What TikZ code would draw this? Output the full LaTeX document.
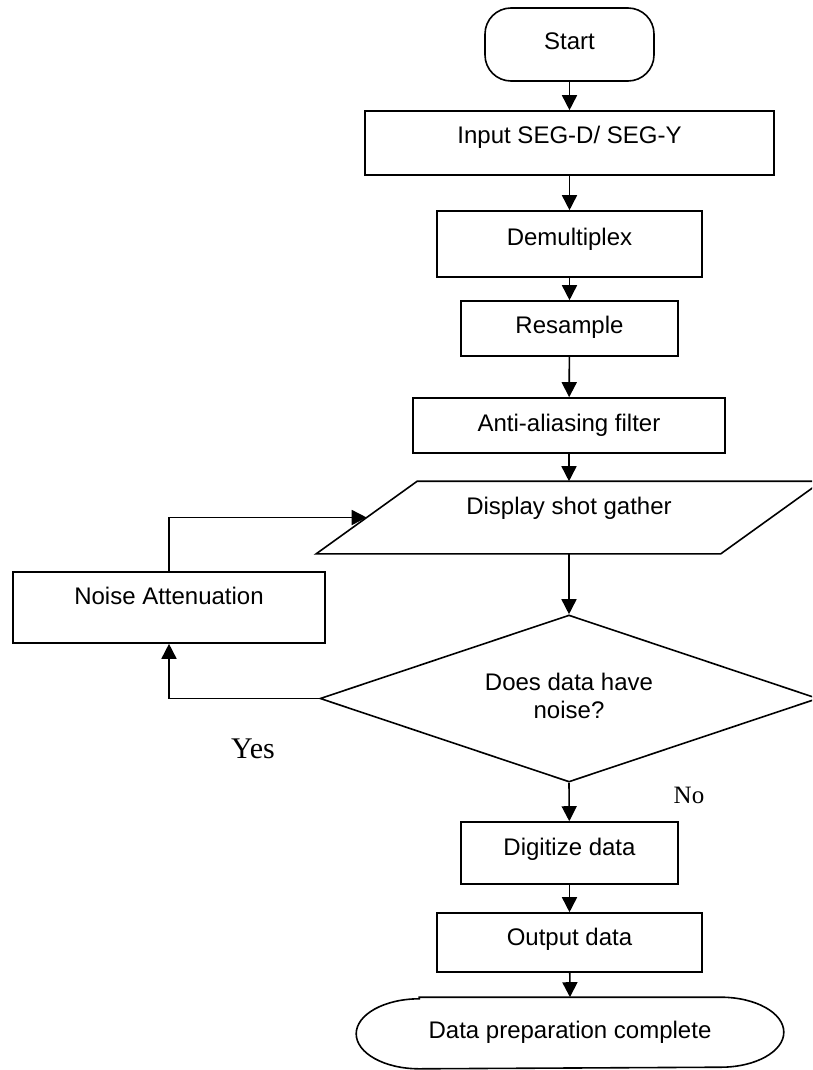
\documentclass[tikz,border=0pt]{standalone}
\usepackage{fontspec}
\setmainfont{Liberation Sans}
\newfontfamily\timesf{Liberation Serif}
\usetikzlibrary{arrows.meta,shapes.geometric}
\tikzset{
  base/.style={font=\fontsize{24}{28}\selectfont, inner sep=0pt, line width=1.6pt},
  procbox/.style={base, draw, rectangle},
  plain/.style={base},
  ts/.style={text height=#1pt, text depth=6pt},
  arr/.style={line width=1.6pt, -{Triangle[length=15pt,width=15pt]}},
  shapeline/.style={line width=1.6pt}
}
\begin{document}
\begin{tikzpicture}[x=1pt,y=-1pt]
\useasboundingbox (0,0) rectangle (812,1070);
\clip (0,0) rectangle (812,1070);
\fill[white] (0,0) rectangle (812,1070);

\node[procbox, rounded corners=26pt, minimum width=169pt, minimum height=73pt, ts=16] (start) at (569.5,44.5) {Start};
\node[procbox, minimum width=409pt, minimum height=64pt, ts=6] (input) at (569.5,143) {Input SEG-D/ SEG-Y};
\node[procbox, minimum width=265pt, minimum height=66pt, ts=8] (demux) at (569.5,244) {Demultiplex};
\node[procbox, minimum width=217pt, minimum height=55pt, ts=15] (resamp) at (569.5,328.5) {Resample};
\node[procbox, minimum width=312pt, minimum height=55pt, ts=17] (anti) at (569,425.5) {Anti-aliasing filter};
\node[plain, minimum width=403pt, minimum height=71pt, text height=4pt, text depth=10pt] (disp) at (569,517.5) {Display shot gather};
\draw[shapeline] ([xshift=-50.5pt]disp.south west) -- ([xshift=50.5pt]disp.north west) -- ([xshift=50.5pt]disp.north east) -- ([xshift=-50.5pt]disp.south east) -- cycle;
\node[procbox, minimum width=312pt, minimum height=71pt, text height=4pt, text depth=10pt] (noise) at (169,607.5) {Noise Attenuation};
\node[base, draw, diamond, aspect=3, minimum width=498pt, minimum height=167pt] (dia) at (569,698.5) {\raisebox{9pt}{\begin{tabular}{@{}c@{}}Does data have\\noise?\end{tabular}}};
\node[procbox, minimum width=217pt, minimum height=62pt, ts=10] (digit) at (569.5,853) {Digitize data};
\node[procbox, minimum width=265pt, minimum height=59pt, ts=11] (outp) at (569.5,942.5) {Output data};
\node[plain, minimum width=426pt, minimum height=70pt, ts=16] (endn) at (570,1033) {Data preparation complete};
\draw[shapeline] ([xshift=63pt]endn.north west) -- ([xshift=-63pt]endn.north east)
  arc[start angle=90, end angle=-90, x radius=63pt, y radius=35pt]
  -- ([xshift=63pt]endn.south west)
  arc[start angle=270, end angle=90, x radius=63pt, y radius=35pt] -- cycle;

\node[font=\timesf\fontsize{30}{34}\selectfont, inner sep=0pt] (yes) at (253,749) {Yes};
\node[font=\timesf\fontsize{25}{29}\selectfont, inner sep=0pt] (no) at (689,795) {No};

\draw[arr] (start) -- (input);
\draw[arr] (input) -- (demux);
\draw[arr] (demux) -- (resamp);
\draw[arr] (resamp) -- (anti);
\draw[arr] (anti) -- (disp.north);
\draw[arr] (disp.south) -- (dia.north);
\draw[arr] (dia.south) -- (digit);
\draw[arr] (digit) -- (outp);
\draw[arr] (outp) -- (endn.north);
\draw[arr] (dia.west) -| (noise.south);
\draw[arr] (noise.north) |- (disp.west);
\end{tikzpicture}
\end{document}
